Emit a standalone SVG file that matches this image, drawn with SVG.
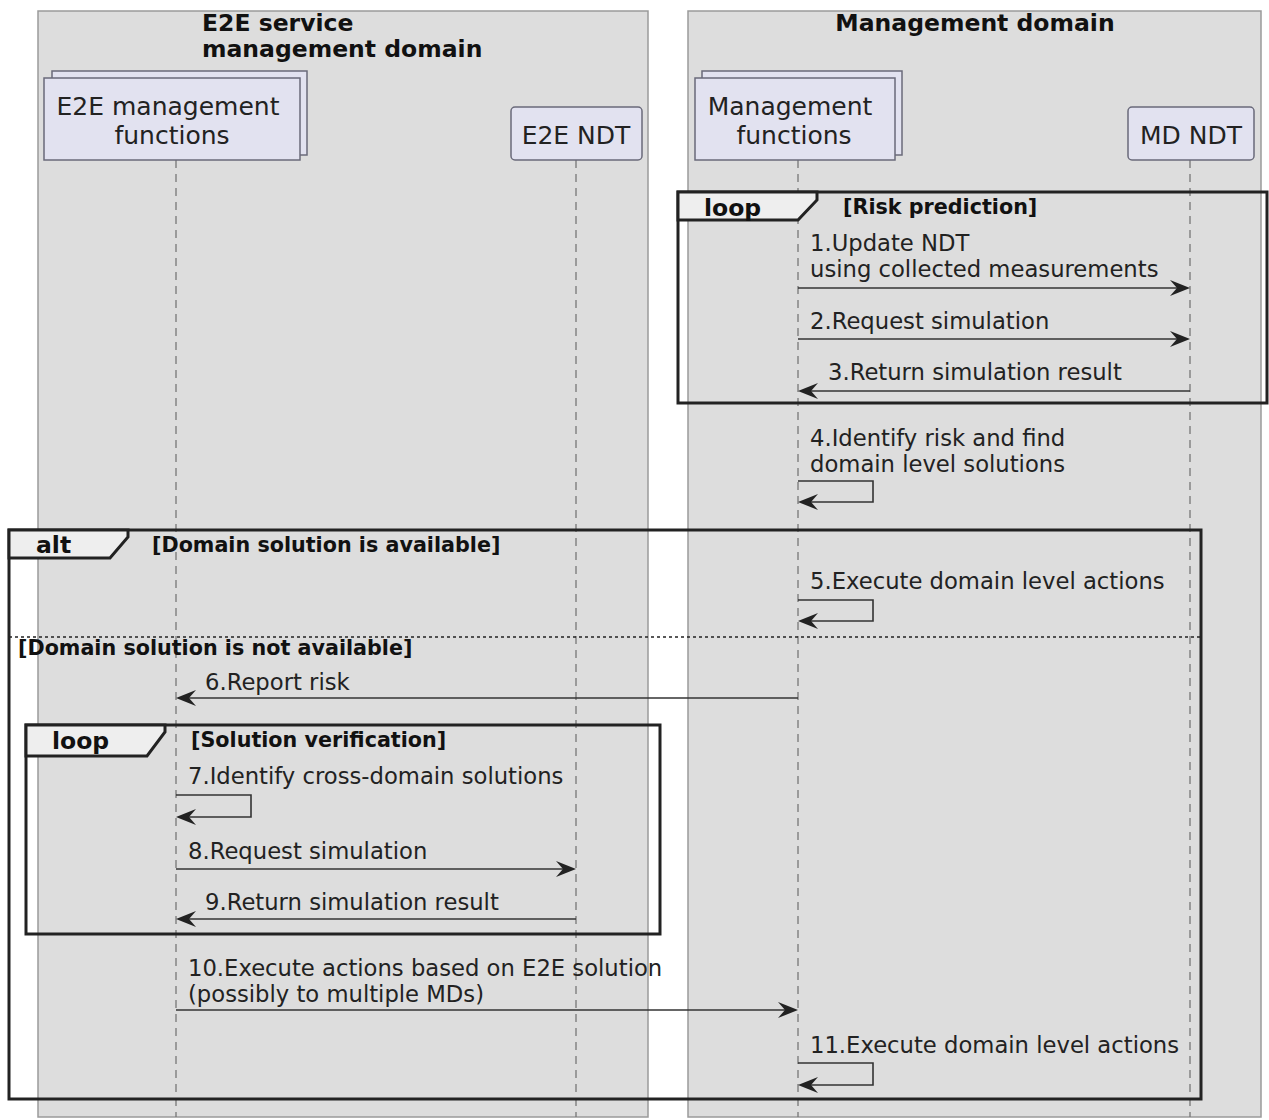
<svg xmlns="http://www.w3.org/2000/svg" width="1269" height="1120" viewBox="0 0 1269 1120">
<defs>
<style>
text{font-family:"DejaVu Sans","Liberation Sans",sans-serif;fill:#222}
.dom{fill:#dddddd;stroke:#9a9a9a;stroke-width:1.5}
.dt{font-weight:bold;font-size:23.5px;fill:#111}
.p{fill:#e2e2f0;stroke:#6a6a7a;stroke-width:1.5}
.pt{font-size:25px;text-anchor:middle}
.life{stroke:#777;stroke-width:1.3;stroke-dasharray:8 6;fill:none}
.frame{fill:none;stroke:#222;stroke-width:3}
.tab{fill:#eeeeee;stroke:#222;stroke-width:3}
.ft{font-weight:bold;font-size:23.5px;fill:#111}
.g{font-weight:bold;font-size:20.7px;fill:#111}
.m{font-size:22.7px}
.msg{stroke:#333;stroke-width:1.6;fill:none}
.sep{stroke:#222;stroke-width:1.5;stroke-dasharray:3 3}
.ah{fill:#222}
</style>
</defs>
<g id="e2e-domain">
<rect class="dom" x="38" y="11" width="610" height="1106"/>
<text class="dt" x="202" y="31">E2E service</text>
<text class="dt" x="202" y="57">management domain</text>
</g>
<g id="md-domain">
<rect class="dom" x="688" y="11" width="573" height="1106"/>
<text class="dt" x="975" y="31" text-anchor="middle">Management domain</text>
</g>
<g id="lifelines">
<line class="life" x1="176" y1="160" x2="176" y2="1117"/>
<line class="life" x1="576" y1="160" x2="576" y2="1117"/>
<line class="life" x1="798" y1="160" x2="798" y2="1117"/>
<line class="life" x1="1190" y1="160" x2="1190" y2="1117"/>
</g>
<g id="e2e-mf">
<rect class="p" x="52" y="71" width="255" height="84"/>
<rect class="p" x="44" y="78" width="256" height="82"/>
<text class="pt" x="168" y="115">E2E management</text>
<text class="pt" x="172" y="144">functions</text>
</g>
<g id="e2e-ndt">
<rect class="p" x="511" y="107" width="131" height="53" rx="4"/>
<text class="pt" x="576" y="144">E2E NDT</text>
</g>
<g id="md-mf">
<rect class="p" x="702" y="71" width="200" height="84"/>
<rect class="p" x="695" y="78" width="200" height="82"/>
<text class="pt" x="790" y="115">Management</text>
<text class="pt" x="794" y="144">functions</text>
</g>
<g id="md-ndt">
<rect class="p" x="1128" y="107" width="126" height="53" rx="4"/>
<text class="pt" x="1191" y="144">MD NDT</text>
</g>
<g id="frames">
<rect class="frame" x="678" y="192" width="589" height="211"/>
<path class="tab" d="M678,192 H817 V200 L798,220 H678 Z"/>
<text class="ft" x="704" y="216">loop</text>
<text class="g" x="843" y="214">[Risk prediction]</text>

<rect class="frame" x="9" y="530" width="1192" height="569"/>
<path class="tab" d="M9,530 H128 V537 L110,558 H9 Z"/>
<text class="ft" x="36" y="553">alt</text>
<text class="g" x="152" y="552">[Domain solution is available]</text>
<line class="sep" x1="9" y1="637" x2="1201" y2="637"/>
<text class="g" x="18" y="655">[Domain solution is not available]</text>

<rect class="frame" x="26" y="725" width="634" height="209"/>
<path class="tab" d="M26,725 H165 V732 L147,756 H26 Z"/>
<text class="ft" x="52" y="749">loop</text>
<text class="g" x="191" y="747">[Solution verification]</text>
</g>
<g id="connectors">
<text class="m" x="810" y="251">1.Update NDT</text>
<text class="m" x="810" y="277">using collected measurements</text>
<line class="msg" x1="798" y1="288" x2="1186" y2="288"/>
<path class="ah" d="M1190,288 L1170,280 L1177,288 L1170,296 Z"/>

<text class="m" x="810" y="329">2.Request simulation</text>
<line class="msg" x1="798" y1="339" x2="1186" y2="339"/>
<path class="ah" d="M1190,339 L1170,331 L1177,339 L1170,347 Z"/>

<text class="m" x="828" y="380">3.Return simulation result</text>
<line class="msg" x1="802" y1="391" x2="1190" y2="391"/>
<path class="ah" d="M798,391 L818,383 L811,391 L818,399 Z"/>

<text class="m" x="810" y="446">4.Identify risk and find</text>
<text class="m" x="810" y="472">domain level solutions</text>
<path class="msg" d="M798,481 H873 V502 H802"/>
<path class="ah" d="M798,502 L818,494 L811,502 L818,510 Z"/>

<text class="m" x="810" y="589">5.Execute domain level actions</text>
<path class="msg" d="M798,600 H873 V621 H802"/>
<path class="ah" d="M798,621 L818,613 L811,621 L818,629 Z"/>

<text class="m" x="205" y="690">6.Report risk</text>
<line class="msg" x1="180" y1="698" x2="798" y2="698"/>
<path class="ah" d="M176,698 L196,690 L189,698 L196,706 Z"/>

<text class="m" x="188" y="784">7.Identify cross-domain solutions</text>
<path class="msg" d="M176,795 H251 V817 H180"/>
<path class="ah" d="M176,817 L196,809 L189,817 L196,825 Z"/>

<text class="m" x="188" y="859">8.Request simulation</text>
<line class="msg" x1="176" y1="869" x2="572" y2="869"/>
<path class="ah" d="M576,869 L556,861 L563,869 L556,877 Z"/>

<text class="m" x="205" y="910">9.Return simulation result</text>
<line class="msg" x1="180" y1="919" x2="576" y2="919"/>
<path class="ah" d="M176,919 L196,911 L189,919 L196,927 Z"/>

<text class="m" x="188" y="976">10.Execute actions based on E2E solution</text>
<text class="m" x="188" y="1002">(possibly to multiple MDs)</text>
<line class="msg" x1="176" y1="1010" x2="794" y2="1010"/>
<path class="ah" d="M798,1010 L778,1002 L785,1010 L778,1018 Z"/>

<text class="m" x="810" y="1053">11.Execute domain level actions</text>
<path class="msg" d="M798,1063 H873 V1085 H802"/>
<path class="ah" d="M798,1085 L818,1077 L811,1085 L818,1093 Z"/>
</g>
</svg>
